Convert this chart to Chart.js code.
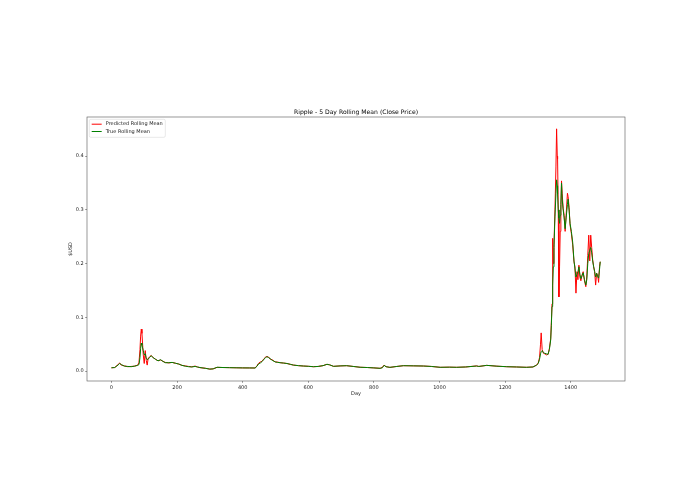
<!DOCTYPE html>
<html>
<head>
<meta charset="utf-8">
<script src="https://cdn.jsdelivr.net/npm/chart.js@4.4.1/dist/chart.umd.min.js"></script>
<style>
html,body{margin:0;padding:0;background:#fff;}
#wrap{width:695px;height:494px;}
</style>
</head>
<body>
<div id="wrap"><canvas id="c" width="695" height="494"></canvas></div>
<script>
const chartTitle = "Ripple - 5 Day Rolling Mean (Close Price)";
const xLabel = "Day";
const yLabel = "$USD";
const seriesNames = ["Predicted Rolling Mean", "True Rolling Mean"];
const xTicks = [0, 200, 400, 600, 800, 1000, 1200, 1400];
const yTicks = [0.0, 0.1, 0.2, 0.3, 0.4];

const days = [0,10,20,25,30,40,50,60,70,80,84,87,89,91,93,95,97,100,103,106,109,112,116,121,127,134,142,150,157,164,175,185,195,205,215,225,235,245,255,262,270,286,300,310,322,340,360,380,400,420,438,444,448,454,459,465,470,474,479,484,490,499,507,514,525,535,545,555,570,585,600,616,630,645,657,665,677,697,717,737,758,780,800,819,826,831,837,849,870,890,920,951,975,1002,1030,1052,1080,1113,1120,1144,1175,1205,1235,1265,1285,1296,1301,1305,1308,1310,1313,1317,1321,1326,1331,1335,1339,1341,1343,1345,1347,1349,1352,1355,1357,1359,1360,1362,1364,1366,1368,1370,1372,1374,1377,1380,1383,1386,1390,1392,1395,1398,1402,1406,1410,1413,1416,1419,1422,1425,1428,1431,1435,1438,1442,1446,1449,1452,1455,1458,1461,1464,1467,1470,1473,1476,1479,1482,1485,1488,1490];

const trueMean = [0.006,0.0065,0.011,0.014,0.012,0.009,0.0085,0.008,0.009,0.0105,0.012,0.025,0.042,0.052,0.048,0.043,0.038,0.030,0.032,0.024,0.021,0.022,0.025,0.0285,0.025,0.022,0.019,0.021,0.018,0.0155,0.0155,0.016,0.0145,0.013,0.0105,0.009,0.008,0.0075,0.0085,0.0075,0.0065,0.005,0.0035,0.004,0.007,0.0065,0.0062,0.006,0.0058,0.0057,0.0056,0.009,0.013,0.015,0.0175,0.022,0.025,0.0267,0.025,0.023,0.020,0.017,0.016,0.0155,0.0148,0.014,0.0125,0.011,0.010,0.0093,0.0088,0.008,0.0085,0.010,0.0125,0.0115,0.0087,0.0095,0.0099,0.0085,0.007,0.0065,0.0058,0.005,0.006,0.0106,0.008,0.0068,0.0085,0.0099,0.0096,0.0093,0.0085,0.0069,0.0072,0.0069,0.0075,0.0093,0.0085,0.0105,0.009,0.008,0.0075,0.0069,0.0075,0.011,0.014,0.022,0.032,0.036,0.038,0.034,0.033,0.032,0.031,0.040,0.058,0.085,0.120,0.160,0.194,0.230,0.287,0.330,0.356,0.345,0.330,0.300,0.285,0.275,0.290,0.310,0.350,0.320,0.300,0.285,0.265,0.285,0.310,0.320,0.300,0.275,0.260,0.240,0.205,0.190,0.175,0.180,0.185,0.194,0.180,0.172,0.178,0.183,0.170,0.160,0.170,0.200,0.219,0.225,0.230,0.220,0.205,0.194,0.185,0.175,0.182,0.176,0.173,0.190,0.2035];

const predMean = [0.006,0.0065,0.012,0.015,0.011,0.0095,0.008,0.0085,0.009,0.011,0.016,0.040,0.065,0.078,0.070,0.050,0.030,0.014,0.038,0.020,0.011,0.024,0.026,0.029,0.025,0.022,0.019,0.0205,0.018,0.016,0.015,0.016,0.0145,0.013,0.0105,0.0095,0.0085,0.0078,0.0092,0.0075,0.0062,0.0052,0.0036,0.004,0.0068,0.0065,0.0063,0.006,0.0058,0.0057,0.0056,0.010,0.014,0.017,0.018,0.023,0.026,0.027,0.026,0.022,0.021,0.017,0.0165,0.0155,0.0148,0.014,0.0125,0.011,0.010,0.0093,0.0088,0.008,0.0085,0.010,0.0125,0.0115,0.0087,0.0095,0.0099,0.0085,0.007,0.0065,0.0058,0.005,0.007,0.011,0.008,0.0068,0.0085,0.0099,0.0096,0.0093,0.0085,0.0069,0.0072,0.0069,0.0075,0.0095,0.0085,0.0105,0.009,0.008,0.0075,0.0069,0.0075,0.011,0.015,0.025,0.050,0.071,0.040,0.033,0.032,0.030,0.031,0.042,0.060,0.090,0.125,0.247,0.200,0.235,0.300,0.380,0.451,0.400,0.395,0.300,0.138,0.194,0.260,0.300,0.354,0.330,0.303,0.290,0.260,0.290,0.331,0.325,0.305,0.272,0.256,0.235,0.2035,0.194,0.145,0.185,0.170,0.197,0.175,0.168,0.180,0.185,0.168,0.157,0.175,0.215,0.253,0.205,0.253,0.230,0.207,0.194,0.185,0.160,0.182,0.180,0.165,0.195,0.2035];

const FONT = "'DejaVu Sans', sans-serif";
const toXY = (vals) => days.map((d, i) => ({x: d, y: vals[i]}));

const framePlugin = {
  id: 'frame',
  afterDatasetsDraw(chart) {
    const {ctx, chartArea: a} = chart;
    ctx.save();
    ctx.strokeStyle = '#555';
    ctx.lineWidth = 0.6;
    ctx.strokeRect(a.left, a.top, a.right - a.left, a.bottom - a.top);
    // title
    ctx.fillStyle = '#000';
    ctx.font = "6.1px " + FONT;
    ctx.textAlign = 'center';
    ctx.textBaseline = 'alphabetic';
    ctx.fillText(chartTitle, (a.left + a.right) / 2, a.top - 3.3);
    // legend
    const lx = a.left + 2.3, ly = a.top + 2.3, lw = 76, lh = 18;
    ctx.fillStyle = 'rgba(255,255,255,0.8)';
    ctx.strokeStyle = '#d0d0d0';
    ctx.lineWidth = 0.5;
    ctx.beginPath();
    if (ctx.roundRect) ctx.roundRect(lx, ly, lw, lh, 1.5); else ctx.rect(lx, ly, lw, lh);
    ctx.fill();
    ctx.stroke();
    const ds = chart.data.datasets;
    const order = [1, 0];
    order.forEach((di, k) => {
      const y = ly + 4.9 + k * 7.3;
      ctx.strokeStyle = ds[di].borderColor;
      ctx.lineWidth = 1;
      ctx.beginPath();
      ctx.moveTo(lx + 2.4, y);
      ctx.lineTo(lx + 12.4, y);
      ctx.stroke();
      ctx.fillStyle = '#222';
      ctx.font = "5px " + FONT;
      ctx.textAlign = 'left';
      ctx.textBaseline = 'middle';
      ctx.fillText(ds[di].label, lx + 16.4, y);
    });
    ctx.restore();
  }
};

new Chart(document.getElementById('c'), {
  type: 'line',
  data: {
    datasets: [
      { label: seriesNames[1], data: toXY(trueMean), borderColor: '#008000', borderWidth: 1, pointRadius: 0, tension: 0, fill: false },
      { label: seriesNames[0], data: toXY(predMean), borderColor: '#ff0000', borderWidth: 1, pointRadius: 0, tension: 0, fill: false }
    ]
  },
  options: {
    responsive: false,
    animation: false,
    devicePixelRatio: 1,
    layout: { padding: { top: 117, right: 70, bottom: 0, left: 0 } },
    plugins: { legend: { display: false }, tooltip: { enabled: false }, title: { display: false } },
    scales: {
      x: {
        type: 'linear',
        min: -74.5, max: 1565.5,
        afterBuildTicks: (s) => { s.ticks = xTicks.map(v => ({value: v})); },
        afterFit: (s) => { s.height = 113; },
        ticks: { font: { family: FONT, size: 5 }, color: '#222', padding: 1.5, maxRotation: 0, autoSkip: false, callback: (v) => String(v) },
        grid: { drawOnChartArea: false, drawTicks: true, tickLength: 1.8, color: '#333', lineWidth: 0.5 },
        border: { display: false },
        title: { display: true, text: xLabel, font: { family: FONT, size: 5 }, color: '#222', padding: { top: 0, bottom: 97 } }
      },
      y: {
        type: 'linear',
        min: -0.0186, max: 0.473,
        afterBuildTicks: (s) => { s.ticks = yTicks.map(v => ({value: v})); },
        afterFit: (s) => { s.width = 87; },
        ticks: { font: { family: FONT, size: 5 }, color: '#222', padding: 1.5, autoSkip: false, callback: (v) => v.toFixed(1) },
        grid: { drawOnChartArea: false, drawTicks: true, tickLength: 1.8, color: '#333', lineWidth: 0.5 },
        border: { display: false },
        title: { display: true, text: yLabel, font: { family: FONT, size: 5 }, color: '#222', padding: { top: 67.5, bottom: 0 } }
      }
    }
  },
  plugins: [framePlugin]
});
</script>
</body>
</html>
